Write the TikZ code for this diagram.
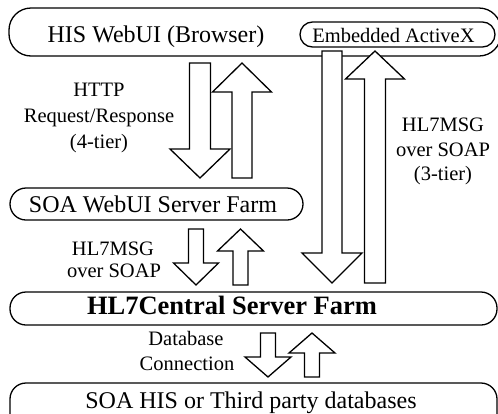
\documentclass[tikz,border=0pt]{standalone}
\usepackage{fontspec}
\setmainfont{Liberation Serif}
\newcommand{\blkarrow}[6]{% centre x, tail y, head base y, tip y, shaft half width, head half width
  \draw[blockarrow] ({#1-#5},#2) -- ({#1-#5},#3) -- ({#1-#6},#3) -- (#1,#4)
    -- ({#1+#6},#3) -- ({#1+#5},#3) -- ({#1+#5},#2) -- cycle;}
\tikzset{
  panel/.style={draw, line width=1.3pt, fill=white, inner sep=0pt},
  blockarrow/.style={draw, line width=1.3pt, fill=white, line join=miter},
  lbl/.style={anchor=base, inner sep=0pt, font=\fontsize{20.5}{24}\selectfont},
  big/.style={anchor=base, inner sep=0pt, font=\fontsize{24}{28}\selectfont},
}
\begin{document}
\begin{tikzpicture}[x=1pt, y=-1pt]
\clip (0,0) rectangle (498,413);
\fill[white] (0,0) rectangle (498,413);

% tiers
\node[panel, rounded corners=22pt, minimum width=492pt, minimum height=48pt] (his) at (255,32) {};
\node[big] (histxt) at (156,42) {HIS WebUI (Browser)};
\node[panel, rounded corners=12.5pt, minimum width=195pt, minimum height=25pt] (activex) at (397.5,34.5) {};
\node[lbl] (activextxt) at (393.5,42) {Embedded ActiveX};

\node[panel, rounded corners=16pt, minimum width=293pt, minimum height=32pt] (webui) at (156.5,204) {};
\node[big] (webuitxt) at (153,212) {SOA WebUI Server Farm};

\node[panel, rounded corners=16pt, minimum width=487pt, minimum height=33pt] (central) at (253.5,308.5) {};
\node[big, font=\fontsize{26.5}{30}\selectfont\bfseries] (centraltxt) at (232,314) {HL7Central Server Farm};

\node[panel, rounded corners=16pt, minimum width=487pt, minimum height=47pt] (dbs) at (253.5,406.5) {};
\node[big] (dbstxt) at (251,408) {SOA HIS or Third party databases};

% block arrows
\blkarrow{200}{63}{149}{178}{10.5}{30}
\blkarrow{242}{178}{92}{63}{10}{29.5}
\blkarrow{332}{51}{253}{283}{10}{30}
\blkarrow{375}{283}{79}{51}{10.5}{29.5}
\blkarrow{196}{229}{263}{285}{7.5}{22.5}
\blkarrow{240.5}{285}{251}{229}{7.5}{23}
\blkarrow{268}{333}{357}{377}{7.5}{23}
\blkarrow{312}{377}{353}{333}{7.5}{23}

% arrow labels
\node[lbl] (http1) at (99,96) {HTTP};
\node[lbl] (http2) at (99,122) {Request/Response};
\node[lbl] (http3) at (99,148) {(4-tier)};

\node[lbl] (soap1) at (443,131) {HL7MSG};
\node[lbl] (soap2) at (443,156) {over SOAP};
\node[lbl] (soap3) at (443,180) {(3-tier)};

\node[lbl] (msg1) at (113,255) {HL7MSG};
\node[lbl] (msg2) at (114,277) {over SOAP};

\node[lbl] (db1) at (186,345.5) {Database};
\node[lbl] (db2) at (187,370) {Connection};
\end{tikzpicture}
\end{document}
